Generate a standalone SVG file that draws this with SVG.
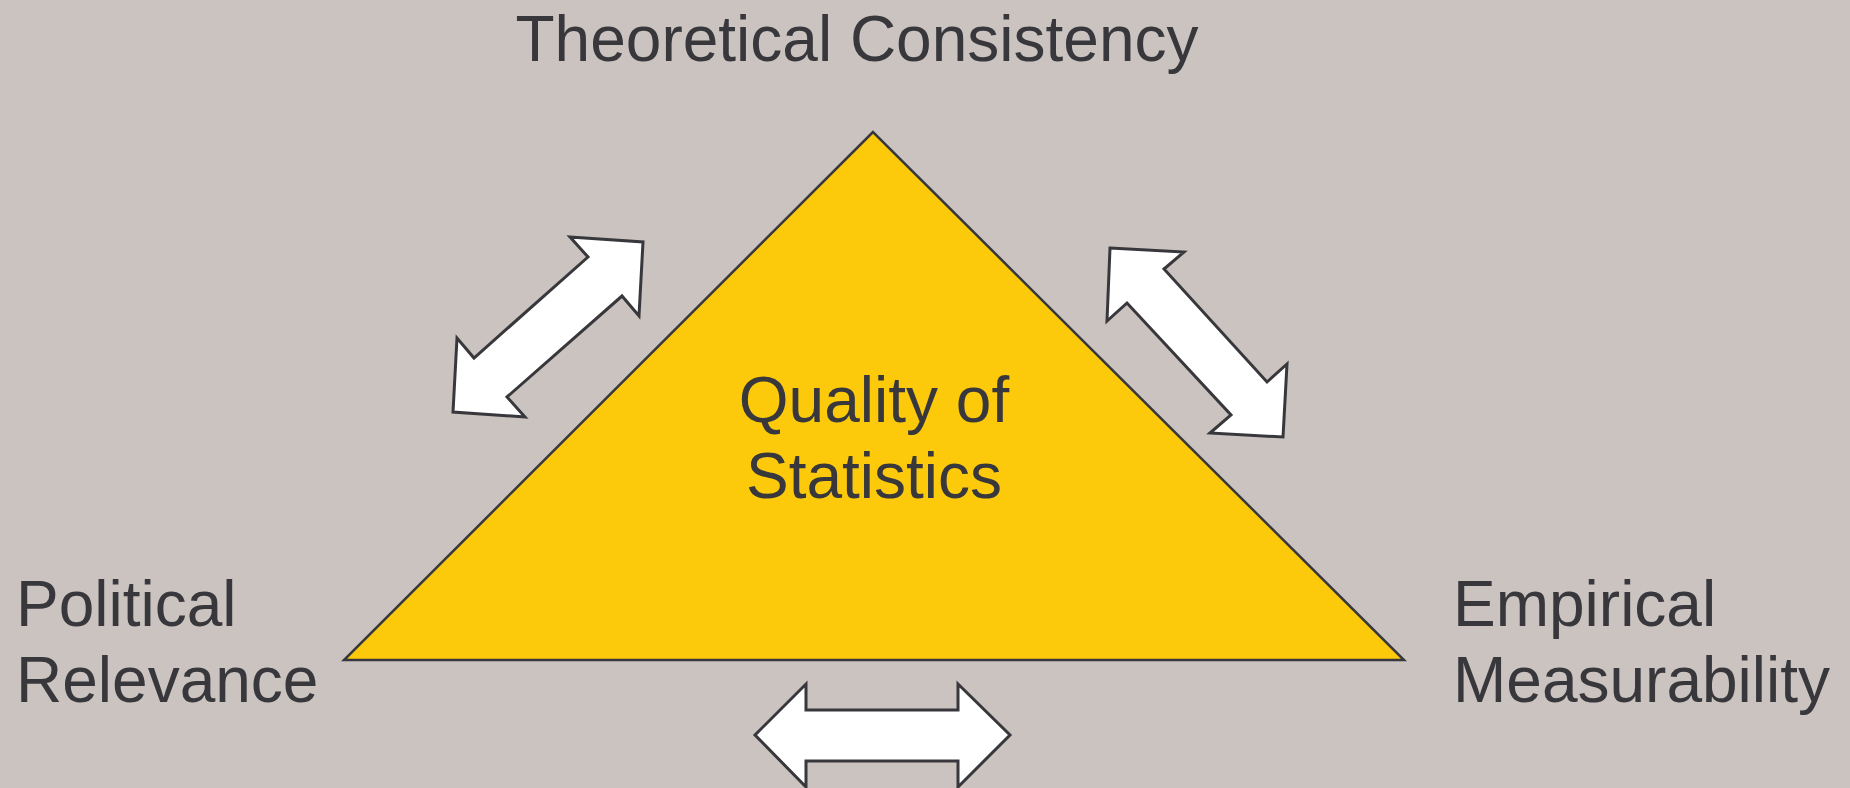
<svg xmlns="http://www.w3.org/2000/svg" width="1850" height="788" viewBox="0 0 1850 788">
<style>
.lbl{font-family:"Liberation Sans",Arial,sans-serif;font-size:64px;fill:#38383c}
.arrow{fill:#ffffff;stroke:#38383c;stroke-width:3;stroke-linejoin:miter}
.tri{fill:#fdca0b;stroke:#38383c;stroke-width:2.5;stroke-linejoin:miter}
</style>
<rect x="0" y="0" width="1850" height="788" fill="#cac3c0"/>
<g id="triangle">
<polygon class="tri" points="873,132 344,660 1404,660"/>
<text class="lbl" x="874" y="422" text-anchor="middle">Quality of</text>
<text class="lbl" x="874" y="498" text-anchor="middle">Statistics</text>
</g>
<g id="theoretical">
<text class="lbl" x="857" y="61" text-anchor="middle">Theoretical Consistency</text>
</g>
<g id="political">
<text class="lbl" x="16" y="626">Political</text>
<text class="lbl" x="16" y="702">Relevance</text>
</g>
<g id="empirical">
<text class="lbl" x="1453" y="626">Empirical</text>
<text class="lbl" x="1453" y="702">Measurability</text>
</g>
<g id="connectors">
<polygon class="arrow" points="643,242 639,316 622,296 507,397 525,417 453,412 457,338 474,358 588,257 570,237"/>
<polygon class="arrow" points="1110,248 1184,252 1164,269 1267,382 1287,364 1283,437 1210,433 1231,415 1127,303 1107,321"/>
<polygon class="arrow" points="755,735 806,684 806,710 958,710 958,684 1010,735 958,787 958,761 806,761 806,787"/>
</g>
</svg>
